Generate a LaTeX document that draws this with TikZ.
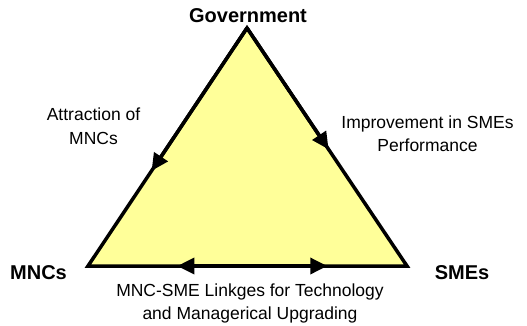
\documentclass[tikz,border=0pt]{standalone}
\usepackage{fontspec}
\setmainfont{Liberation Sans}
\usetikzlibrary{arrows.meta,calc}
\definecolor{vyellow}{HTML}{FFFF99}

\begin{document}
\begin{tikzpicture}[x=1pt,y=-1pt,
		vline/.style={line width=3.5pt},
		vtip/.style={-{Triangle[length=17pt,width=16pt]}},
		vlabel/.style={font=\fontsize{17.5}{23.5}\selectfont, align=center},
		vcorner/.style={font=\fontsize{20}{24}\selectfont\bfseries, anchor=base}]
		\useasboundingbox (0,0) rectangle (527,325);
		\coordinate (G) at (247,28);
		\coordinate (M) at (88,266);
		\coordinate (S) at (407,266);
		\coordinate (GM) at ($(G)!0.6!(M)$);
		\coordinate (GS) at ($(G)!0.51!(S)$);
		\coordinate (MS) at ($(M)!0.5!(S)$);
		\coordinate (B1) at ($(M)!0.28!(S)$);
		\coordinate (B2) at ($(M)!0.75!(S)$);
		\draw[vline, fill=vyellow] (M) -- (G) -- (S) -- cycle;
		\draw[vline, vtip] (G) -- (GM);
		\draw[vline, vtip] (G) -- (GS);
		\draw[vline, vtip] (MS) -- (B1);
		\draw[vline, vtip] (MS) -- (B2);
		\node[vcorner] (gov) at (248,22.7) {Government};
		\node[vcorner] (mnc) at (38.5,279) {MNCs};
		\node[vcorner] (sme) at (462,279) {SMEs};
		\node[vlabel] (attr) at (93.5,126) {Attraction of\\MNCs};
		\node[vlabel] (impr) at (427.5,133.5) {Improvement in SMEs\\Performance};
		\node[vlabel] (link) at (250,303.5) {MNC-SME Linkges for Technology\\and Managerical Upgrading};
	\end{tikzpicture}
\end{document}
